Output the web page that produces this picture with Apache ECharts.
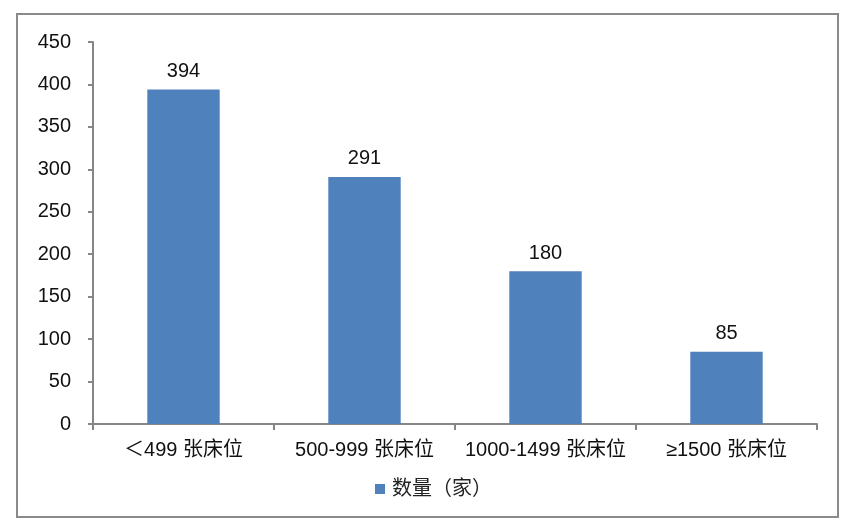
<!DOCTYPE html>
<html>
<head>
<meta charset="utf-8">
<script src="https://cdn.jsdelivr.net/npm/echarts@6/dist/echarts.min.js"></script>
<style>
  html, body { margin: 0; padding: 0; background: #fff; }
  #chart { width: 842px; height: 522px; }
</style>
</head>
<body>
<div id="chart"></div>
<script>
const categories = ['＜499 张床位', '500-999 张床位', '1000-1499 张床位', '≥1500 张床位'];
const counts = [394, 291, 180, 85];
const seriesName = '数量（家）';

const font = '"Liberation Sans", Arial, "Noto Sans CJK SC", sans-serif';
const axisGray = '#868686';

const chart = echarts.init(document.getElementById('chart'));
chart.setOption({
  animation: false,
  textStyle: { fontFamily: font },
  graphic: [{
    type: 'rect',
    shape: { x: 17, y: 14, width: 821, height: 503 },
    style: { fill: 'none', stroke: '#8a8a8a', lineWidth: 2 },
    silent: true
  }],
  grid: { left: 93, right: 25, top: 42, bottom: 98 },
  legend: {
    bottom: 18,
    left: 370,
    itemWidth: 10,
    itemHeight: 10,
    itemGap: 10,
    icon: 'rect',
    textStyle: { fontSize: 20, color: '#222', fontFamily: font, padding: [0, 0, 0, 2] },
    data: [seriesName]
  },
  xAxis: {
    type: 'category',
    data: categories,
    axisLine: { lineStyle: { color: axisGray, width: 2 } },
    axisTick: { show: true, length: 6, lineStyle: { color: axisGray, width: 2 } },
    axisLabel: { fontSize: 20, color: '#111', margin: 16, interval: 0 }
  },
  yAxis: {
    type: 'value',
    min: 0,
    max: 450,
    interval: 50,
    splitLine: { show: false },
    axisLine: { show: true, lineStyle: { color: axisGray, width: 2 } },
    axisTick: { show: true, length: 5, lineStyle: { color: axisGray, width: 2 } },
    axisLabel: { fontSize: 20, color: '#111', margin: 22 }
  },
  series: [{
    name: seriesName,
    type: 'bar',
    data: counts,
    barWidth: '40%',
    itemStyle: { color: '#4F81BD' },
    label: {
      show: true,
      position: 'top',
      distance: 8,
      fontSize: 20,
      color: '#111',
      fontFamily: font
    }
  }]
});
</script>
</body>
</html>
